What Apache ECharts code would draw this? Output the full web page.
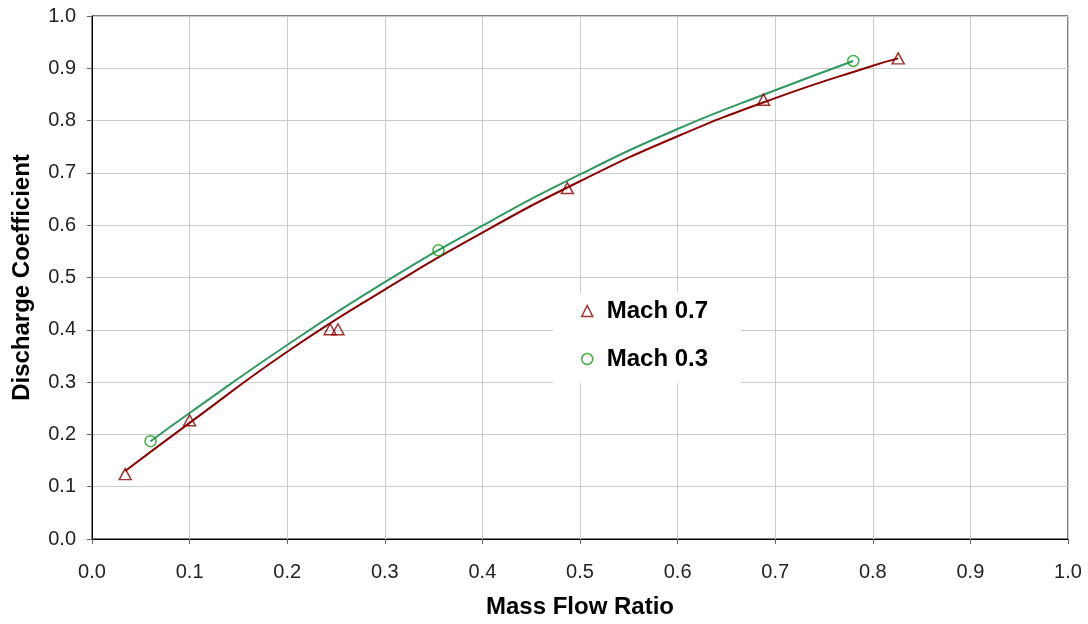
<!DOCTYPE html>
<html>
<head>
<meta charset="utf-8">
<script src="https://cdn.jsdelivr.net/npm/echarts@6/dist/echarts.min.js"></script>
<style>
  html, body { margin: 0; padding: 0; background: #fff; }
  #chart { width: 1088px; height: 624px; }
</style>
</head>
<body>
<div id="chart"></div>
<script>
// measured points
const mach07X = [0.034, 0.100, 0.244, 0.252, 0.487, 0.688, 0.826];
const mach07Y = [0.124, 0.227, 0.401, 0.401, 0.671, 0.840, 0.919];
const mach03X = [0.060, 0.355, 0.780];
const mach03Y = [0.187, 0.552, 0.914];

// trend lines
const fit07X = [0.034, 0.1, 0.2, 0.3, 0.4, 0.5, 0.6, 0.7, 0.8, 0.826];
const fit07Y = [0.130, 0.222, 0.358, 0.477, 0.586, 0.684, 0.770, 0.843, 0.905, 0.919];
const fit03X = [0.060, 0.1, 0.2, 0.3, 0.4, 0.5, 0.6, 0.7, 0.780];
const fit03Y = [0.187, 0.241, 0.371, 0.491, 0.599, 0.697, 0.784, 0.858, 0.914];

const ticks = [0, 0.1, 0.2, 0.3, 0.4, 0.5, 0.6, 0.7, 0.8, 0.9, 1.0];

const red = '#8b0000';
const green = '#119911';
const greenLine = '#2e9960';
const font = 'Liberation Sans, Arial';

const zip = (xs, ys) => xs.map((x, i) => [x, ys[i]]);

const chart = echarts.init(document.getElementById('chart'));

const axisCommon = {
    type: 'value',
    min: ticks[0],
    max: ticks[ticks.length - 1],
    interval: 0.1,
    axisLine: { show: true, lineStyle: { color: '#000', width: 1 } },
    axisTick: { show: true, length: 5, lineStyle: { color: '#666' } },
    axisLabel: {
        color: '#222',
        fontSize: 20,
        fontFamily: font,
        formatter: v => v.toFixed(1)
    },
    splitLine: { show: true, lineStyle: { color: '#cccccc', width: 1 } },
    nameLocation: 'middle',
    nameTextStyle: {
        fontSize: 24,
        fontWeight: 'bold',
        color: '#000',
        fontFamily: font
    }
};

chart.setOption({
    backgroundColor: '#fff',
    animation: false,
    grid: {
        left: 92,
        right: 20,
        top: 16,
        bottom: 83,
        show: true,
        borderColor: '#000',
        borderWidth: 1
    },
    xAxis: Object.assign({}, axisCommon, {
        name: 'Mass Flow Ratio',
        nameGap: 56,
        axisLabel: Object.assign({}, axisCommon.axisLabel, { margin: 23 })
    }),
    yAxis: Object.assign({}, axisCommon, {
        name: 'Discharge Coefficient',
        nameGap: 58,
        axisLabel: Object.assign({}, axisCommon.axisLabel, { margin: 16 })
    }),
    legend: {
        orient: 'vertical',
        left: 553,
        top: 293,
        backgroundColor: '#fff',
        padding: [4, 33, 10, 28],
        itemGap: 20,
        itemWidth: 11,
        itemHeight: 11,
        textStyle: {
            fontSize: 24,
            fontWeight: 'bold',
            color: '#000',
            lineHeight: 28,
            padding: [0, 0, 0, 9],
            fontFamily: font
        },
        data: [
            { name: 'Mach 0.7', icon: 'triangle', itemStyle: { color: '#fff', borderColor: red, borderWidth: 1.5 } },
            { name: 'Mach 0.3', icon: 'circle', itemStyle: { color: '#fff', borderColor: green, borderWidth: 1.5 } }
        ]
    },
    series: [
        {
            name: 'fit07',
            type: 'line',
            smooth: true,
            showSymbol: false,
            silent: true,
            data: zip(fit07X, fit07Y),
            lineStyle: { color: red, width: 2 },
            z: 2
        },
        {
            name: 'fit03',
            type: 'line',
            smooth: true,
            showSymbol: false,
            silent: true,
            data: zip(fit03X, fit03Y),
            lineStyle: { color: greenLine, width: 2 },
            z: 2
        },
        {
            name: 'Mach 0.7',
            type: 'scatter',
            symbol: 'triangle',
            symbolSize: [12, 11],
            data: zip(mach07X, mach07Y),
            itemStyle: { color: 'rgba(255,255,255,0)', borderColor: red, borderWidth: 1.5 },
            z: 3
        },
        {
            name: 'Mach 0.3',
            type: 'scatter',
            symbol: 'circle',
            symbolSize: 11,
            data: zip(mach03X, mach03Y),
            itemStyle: { color: 'rgba(255,255,255,0)', borderColor: green, borderWidth: 1.5 },
            z: 3
        }
    ]
});
</script>
</body>
</html>
